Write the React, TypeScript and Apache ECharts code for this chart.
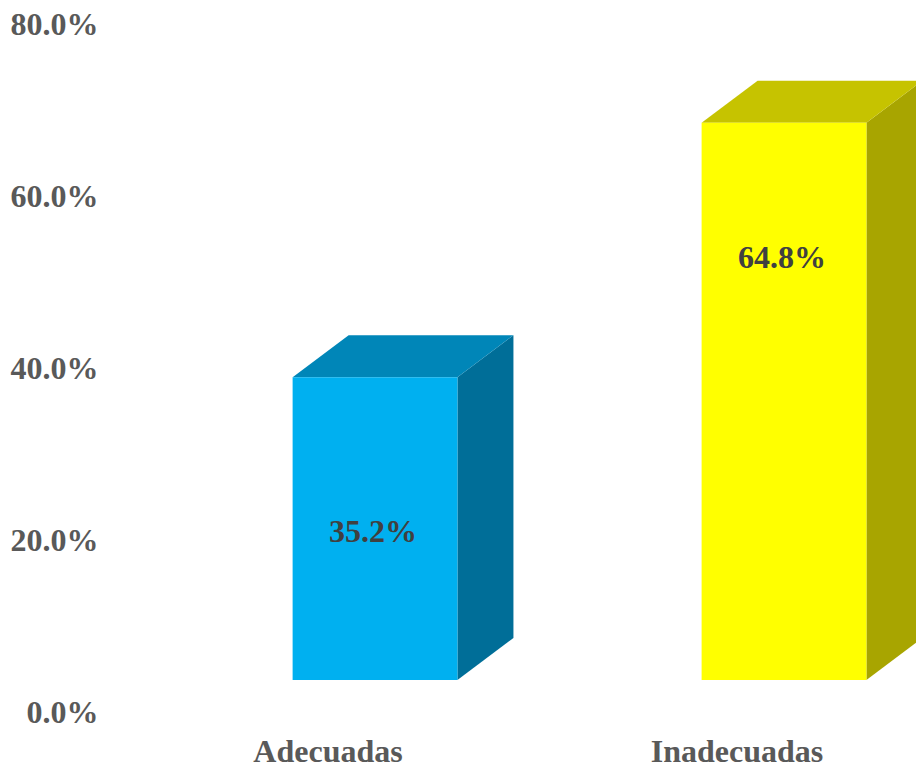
import React, { useEffect, useRef } from "react";
import * as echarts from "echarts";

const categories = ["Adecuadas", "Inadecuadas"];
const values = [35.2, 64.8];
const yTicks = [0, 20, 40, 60, 80];

const FRONT = ["#00B0F0", "#FFFF00"];
const TOP = ["#0086B8", "#C6C300"];
const SIDE = ["#006E98", "#A8A500"];
const LABEL_DROP = [154, 134];
const FONT = "'Liberation Serif', 'Times New Roman', serif";
const FS = 32;

export default function App() {
  const ref = useRef<HTMLDivElement>(null);
  useEffect(() => {
    const chart = echarts.init(ref.current!, null, { renderer: "svg" });
    const option: any = {
      animation: false,
      backgroundColor: "#ffffff",
      grid: { left: 123.5, top: 24, width: 792.5, height: 688 },
      xAxis: {
        type: "value",
        min: -0.5,
        max: 1.4377,
        interval: 0.5,
        splitLine: { show: false },
        axisLine: { show: false },
        axisTick: { show: false },
        axisLabel: {
          margin: 23,
          color: "#595959",
          fontFamily: FONT,
          fontWeight: "bold",
          fontSize: FS,
          showMinLabel: true,
          showMaxLabel: false,
          formatter: (v: number) =>
            Number.isInteger(v) && categories[v] !== undefined ? categories[v] : "",
        },
      },
      yAxis: {
        type: "value",
        min: 0,
        max: 80,
        interval: 20,
        splitLine: { show: false },
        axisLine: { show: false },
        axisTick: { show: false },
        axisLabel: {
          margin: 25,
          color: "#595959",
          fontFamily: FONT,
          fontWeight: "bold",
          fontSize: FS,
          formatter: (v: number) => (yTicks.includes(v) ? v.toFixed(1) + "%" : ""),
        },
      },
      series: [
        {
          type: "custom",
          data: values.map((v, i) => [i, v]),
          renderItem: (params: any, api: any) => {
            const i = api.value(0);
            const v = api.value(1);
            const band = api.size([1, 0])[0];
            const w = band * 0.403;
            const shiftX = band * 0.115;
            const shiftY = -32;
            const dx = 56;
            const dy = -42;
            const top = api.coord([i, v]);
            const base = api.coord([i, 0]);
            const cx = top[0] + shiftX;
            const x0 = cx - w / 2;
            const x1 = cx + w / 2;
            const yT = top[1] + shiftY;
            const yB = base[1] + shiftY;
            return {
              type: "group",
              children: [
                {
                  type: "polygon",
                  shape: { points: [[x1, yT], [x1 + dx, yT + dy], [x1 + dx, yB + dy], [x1, yB]] },
                  style: { fill: SIDE[i] },
                },
                {
                  type: "polygon",
                  shape: { points: [[x0, yT], [x0 + dx, yT + dy], [x1 + dx, yT + dy], [x1, yT]] },
                  style: { fill: TOP[i] },
                },
                {
                  type: "rect",
                  shape: { x: x0, y: yT, width: w, height: yB - yT },
                  style: { fill: FRONT[i] },
                },
                {
                  type: "text",
                  x: cx - 2,
                  y: yT + LABEL_DROP[i],
                  style: {
                    text: v.toFixed(1) + "%",
                    fill: "#404040",
                    font: `bold ${FS}px ${FONT}`,
                    align: "center",
                    verticalAlign: "middle",
                  },
                },
              ],
            };
          },
        },
      ],
    };
    chart.setOption(option);
    return () => chart.dispose();
  }, []);
  return (
    <div
      ref={ref}
      style={{ position: "absolute", left: 0, top: 0, width: 916, height: 769 }}
    />
  );
}
